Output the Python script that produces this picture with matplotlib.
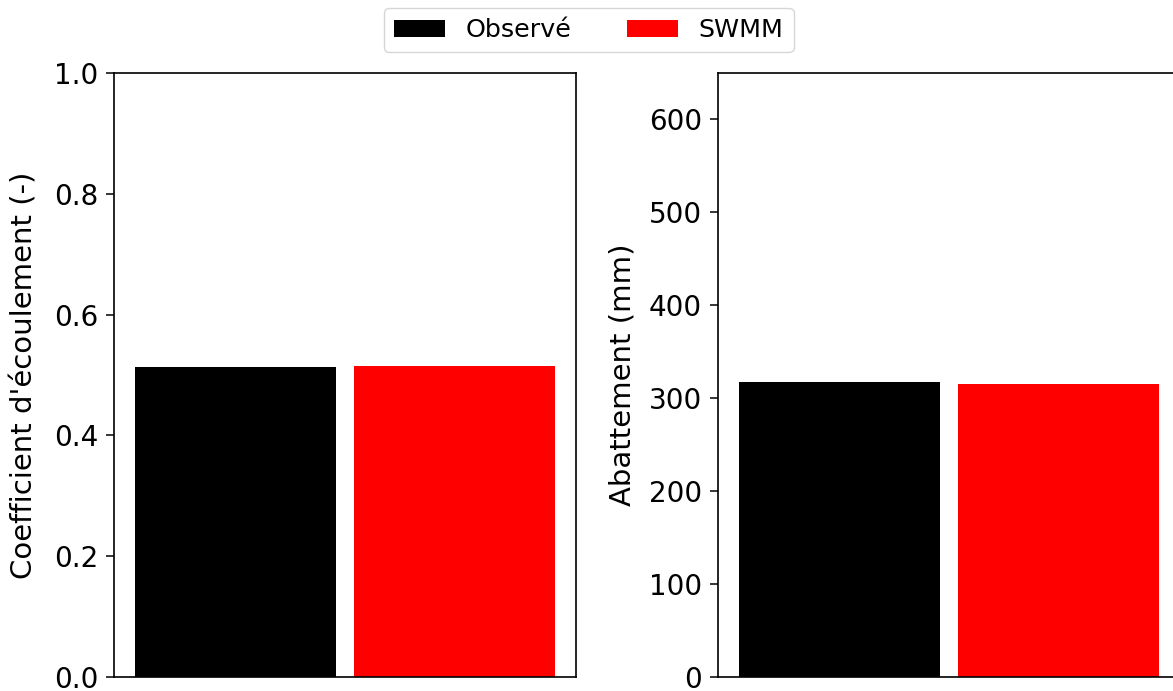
import numpy as np
import matplotlib.pyplot as plt

labels = ['Observé', 'SWMM']
colors = ['black', 'red']
coef = [0.5136, 0.5157]
abatt = [317.2, 315.8]

W, H = 1173, 691
fig = plt.figure(figsize=(W / 100, H / 100), dpi=100)

# the right axes runs past the right edge, as in the reference
ax1 = fig.add_axes([114 / W, 14 / H, 462 / W, 604 / H])
ax2 = fig.add_axes([718 / W, 14 / H, 462 / W, 604 / H])

x = np.arange(len(labels))
bars = ax1.bar(x, coef, width=0.92, color=colors)
ax2.bar(x, abatt, width=0.92, color=colors)

ax1.set_ylim(0, 1.0)
ax1.set_ylabel("Coefficient d'écoulement (-)", fontsize=21, labelpad=11)
ax2.set_ylim(0, 650)
ax2.set_yticks([0, 100, 200, 300, 400, 500, 600])
ax2.set_ylabel('Abattement (mm)', fontsize=21, labelpad=9)

for ax in (ax1, ax2):
    ax.set_xticks([])
    ax.tick_params(axis='y', labelsize=20, length=6, width=1.1, pad=5.5)
    for s in ax.spines.values():
        s.set_linewidth(1.2)

fig.legend(bars, labels, loc='upper center', ncol=2, fontsize=18.3,
           columnspacing=2.2, bbox_to_anchor=(0.502, 1.0066))

fig.savefig('out.png', dpi=100)
